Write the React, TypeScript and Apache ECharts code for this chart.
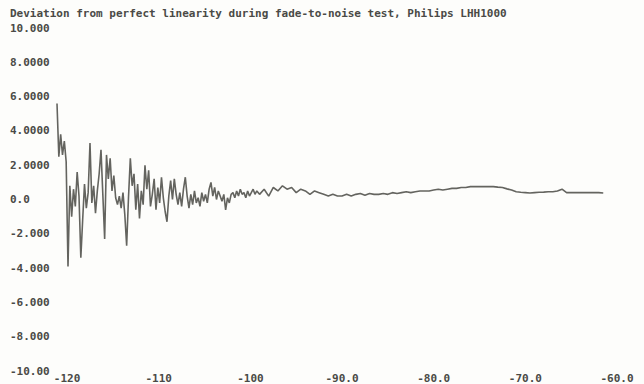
import React, { useEffect, useRef } from "react";
import * as echarts from "echarts";

const titleText =
  "Deviation from perfect linearity during fade-to-noise test, Philips LHH1000";

const xTickValues = [-120, -110, -100, -90, -80, -70, -60];
const xTickLabels = ["-120", "-110", "-100", "-90.0", "-80.0", "-70.0", "-60.0"];
const yTickValues = [10, 8, 6, 4, 2, 0, -2, -4, -6, -8, -10];
const yTickLabels = ["10.000", "8.0000", "6.0000", "4.0000", "2.0000", "0.0", "-2.000", "-4.000", "-6.000", "-8.000", "-10.00"];

// Noisy low-level segment: starts at -121.1 dB, sampled every 0.2 dB
const noisyStart = -121.1;
const noisyStep = 0.2;
const noisyDeviation = [
  5.6, 2.5, 3.8, 2.6, 3.4, 2.2, -3.9, 0.8, -1.0, 0.6,
  -0.4, 1.6, 0.2, -3.4, -1.2, 0.9, -0.5, 0.4, 3.3, -0.2,
  0.8, -0.8, 0.5, 1.5, 2.9, 0.3, -2.3, 2.6, 1.2, 2.4,
  0.5, 1.4, 0.1, -0.3, 0.2, -0.5, 0.4, -0.9, -2.7, 0.1,
  2.4, 0.8, 1.5, -0.6, 0.9, -1.1, 0.5, -0.3, 2.0, 0.6,
  1.7, -0.4, 0.3, 1.2, -0.6, 0.7, -0.2, 1.3, 0.1, -0.7,
  -1.3, 0.2, 1.1, 0.0, 1.2, 0.3, -0.3, 0.4, -0.4, 0.6,
  1.3, 0.2, -0.5, 0.3, -0.3, 0.5, -0.2, 0.1, -0.4, 0.4,
  -0.1, 0.3, -0.2, 0.6, 1.0, 0.2, 0.7, 0.0, 0.5, 0.2,
  -0.1, 0.3, -0.6, 0.1, -0.2, 0.3, 0.4, 0.1, 0.5, 0.2,
  0.6, 0.3, 0.4, 0.1, 0.5, 0.2, 0.4, 0.6, 0.3, 0.5,
];

// Smoother higher-level segment: starts at -99 dB, sampled every 0.5 dB
const smoothStart = -99;
const smoothStep = 0.5;
const smoothDeviation = [
  0.3, 0.6, 0.2, 0.7, 0.5, 0.8, 0.6, 0.7, 0.4, 0.6,
  0.5, 0.3, 0.5, 0.4, 0.3, 0.2, 0.3, 0.2, 0.2, 0.3,
  0.2, 0.3, 0.35, 0.25, 0.35, 0.3, 0.3, 0.35, 0.3, 0.4,
  0.35, 0.4, 0.45, 0.4, 0.45, 0.5, 0.5, 0.5, 0.55, 0.6,
  0.55, 0.6, 0.65, 0.65, 0.7, 0.7, 0.75, 0.75, 0.75, 0.75,
  0.75, 0.75, 0.72, 0.7, 0.62, 0.55, 0.45, 0.42, 0.4, 0.38,
  0.4, 0.42, 0.43, 0.45, 0.45, 0.5, 0.6, 0.4, 0.4, 0.4,
  0.4, 0.4, 0.4, 0.4, 0.4, 0.38,
];

const FONT = "'DejaVu Sans Mono', 'Liberation Mono', monospace";
const TEXT = "#4a4a46";

export default function App() {
  const ref = useRef<HTMLDivElement>(null);

  useEffect(() => {
    if (!ref.current) return;
    const chart = echarts.init(ref.current, undefined, { renderer: "svg" });

    const data: [number, number][] = [
      ...noisyDeviation.map((v, i) => [noisyStart + i * noisyStep, v] as [number, number]),
      ...smoothDeviation.map((v, i) => [smoothStart + i * smoothStep, v] as [number, number]),
    ];

    chart.setOption({
      animation: false,
      backgroundColor: "#fdfdfb",
      title: {
        text: titleText,
        left: 10,
        top: 8,
        padding: 0,
        textStyle: { fontFamily: FONT, fontSize: 11, fontWeight: "bold", color: TEXT },
      },
      grid: { left: 57, top: 28, width: 560, height: 344 },
      xAxis: {
        type: "value",
        min: -121.1,
        max: -60,
        axisLine: { show: false },
        axisTick: { show: false },
        splitLine: { show: false },
        axisLabel: {
          customValues: xTickValues,
          margin: 2,
          fontFamily: FONT,
          fontSize: 11,
          fontWeight: "bold",
          color: TEXT,
          formatter: (v: number) => {
            const i = xTickValues.indexOf(Math.round(v));
            return i >= 0 ? xTickLabels[i] : "";
          },
        },
      },
      yAxis: {
        type: "value",
        min: -10,
        max: 10,
        interval: 2,
        axisLine: { show: false },
        axisTick: { show: false },
        splitLine: { show: false },
        axisLabel: {
          align: "left",
          margin: 47,
          fontFamily: FONT,
          fontSize: 11,
          fontWeight: "bold",
          color: TEXT,
          formatter: (v: number) => {
            const i = yTickValues.indexOf(Math.round(v));
            return i >= 0 ? yTickLabels[i] : "";
          },
        },
      },
      series: [
        {
          type: "line",
          data,
          symbol: "none",
          lineStyle: { color: "#64645f", width: 1.6 },
        },
      ],
    });

    return () => chart.dispose();
  }, []);

  return (
    <div
      ref={ref}
      style={{ position: "fixed", left: 0, top: 0, width: 644, height: 384 }}
    />
  );
}
